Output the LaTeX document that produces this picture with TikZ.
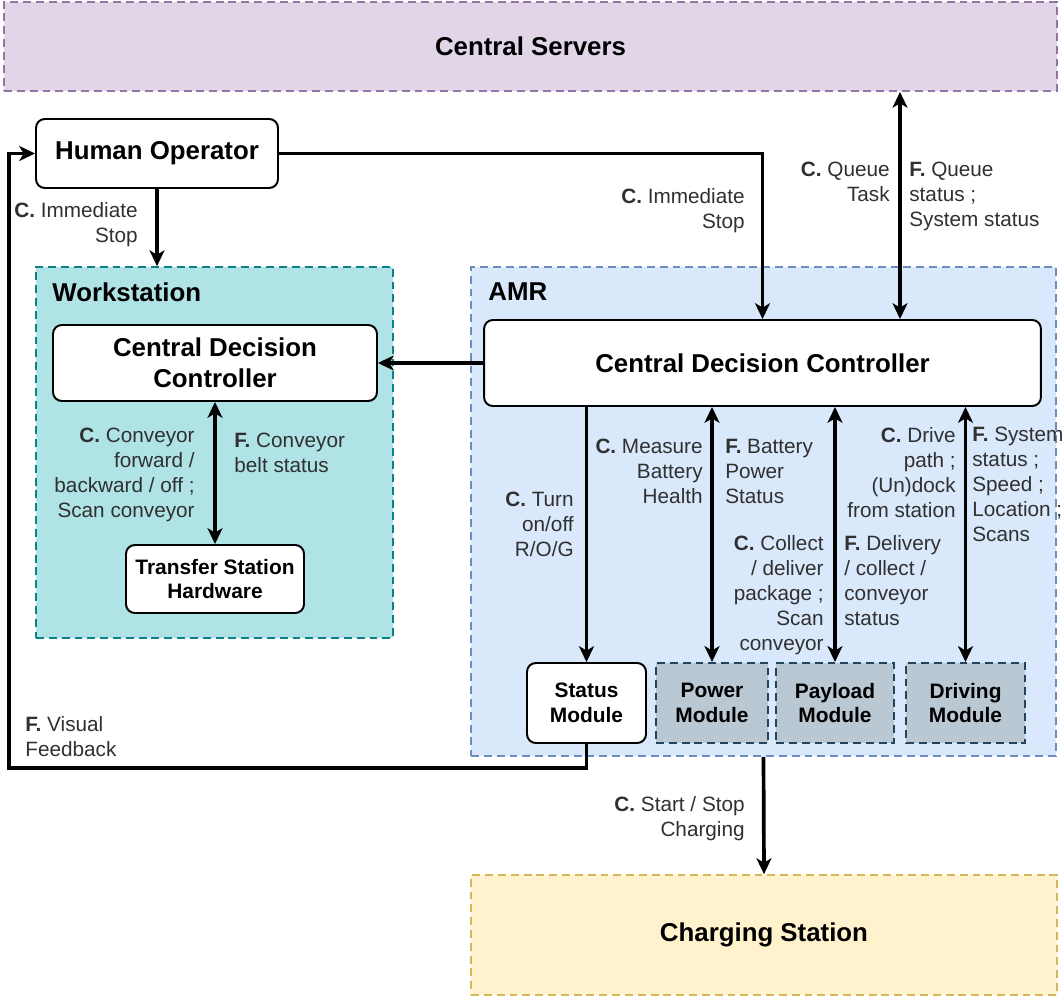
\documentclass[tikz,border=0pt]{standalone}
\usepackage{fontspec}
\setmainfont{Liberation Sans}
\usetikzlibrary{arrows.meta}

\definecolor{srvfill}{HTML}{E1D5E7}
\definecolor{srvdraw}{HTML}{9673A6}
\definecolor{wsfill}{HTML}{B0E3E6}
\definecolor{wsdraw}{HTML}{0E8088}
\definecolor{amrfill}{HTML}{DAE8FC}
\definecolor{amrdraw}{HTML}{6C8EBF}
\definecolor{modfill}{HTML}{BAC8D3}
\definecolor{moddraw}{HTML}{23445D}
\definecolor{chgfill}{HTML}{FFF2CC}
\definecolor{chgdraw}{HTML}{D6B656}
\definecolor{lbltext}{HTML}{303030}

\begin{document}
\begin{tikzpicture}[
  x = 0.02cm, y = -0.02cm,
  every node/.style = {inner sep = 0pt},
  title/.style = {font = \fontsize{14.7}{17.6}\selectfont\bfseries},
  box/.style = {title, draw, fill = white, rounded corners = 5pt, line width = 1.1pt, align = center},
  smallbox/.style = {box, font = \fontsize{11.9}{14.2}\selectfont\bfseries},
  group/.style = {draw, line width = 1pt, dash pattern = on 4.5pt off 2.8pt},
  module/.style = {group, fill = modfill, draw = moddraw, line width = 1.2pt, align = center,
                   font = \fontsize{11.9}{14.2}\selectfont\bfseries},
  lbl/.style = {font = \fontsize{11.8}{14.2}\selectfont, text = lbltext},
  lblr/.style = {lbl, align = right, anchor = north east},
  lbll/.style = {lbl, align = left, anchor = north west},
  tip/.style = {Stealth[length = 9pt, width = 8.5pt, inset = 2.5pt]},
  arr/.style = {-{Stealth[length = 9pt, width = 8.5pt, inset = 2.5pt]}, line width = 2.1pt},
  darr/.style = {{Stealth[length = 9pt, width = 8.5pt, inset = 2.5pt]}-{Stealth[length = 9pt, width = 8.5pt, inset = 2.5pt]}, line width = 2.1pt},
  ]
  \useasboundingbox (0,0) rectangle (1064,997);

  % groups
  \node[group, fill = srvfill, draw = srvdraw, minimum width = 21.06cm, minimum height = 1.78cm, title]
    (servers) at (530.5,46.5) {Central Servers};
  \node[group, fill = wsfill, draw = wsdraw, minimum width = 7.14cm, minimum height = 7.42cm]
    (ws) at (214.5,452.5) {};
  \node[group, fill = amrfill, draw = amrdraw, minimum width = 11.7cm, minimum height = 9.78cm]
    (amr) at (763.5,511.5) {};
  \node[group, fill = chgfill, draw = chgdraw, minimum width = 11.72cm, minimum height = 2.4cm, title]
    (charging) at (764,935) {Charging Station};
  \node[title, anchor = west] (wstitle) at (52,292) {Workstation};
  \node[title, anchor = west] (amrtitle) at (488,292) {AMR};

  % blocks
  \node[box, minimum width = 4.84cm, minimum height = 1.38cm] (human) at (157,153.5) {Human Operator};
  \node[box, minimum width = 6.48cm, minimum height = 1.52cm] (wscdc) at (215,363) {Central Decision\\Controller};
  \node[smallbox, minimum width = 3.56cm, minimum height = 1.36cm] (tsh) at (215,579) {Transfer Station\\Hardware};
  \node[box, minimum width = 11.14cm, minimum height = 1.72cm] (amrcdc) at (762.5,363) {Central Decision Controller};
  \node[smallbox, minimum width = 2.38cm, minimum height = 1.6cm] (status) at (586.5,703) {Status\\Module};
  \node[module, minimum width = 2.24cm, minimum height = 1.6cm] (power) at (712,703) {Power\\Module};
  \node[module, minimum width = 2.36cm, minimum height = 1.6cm] (payload) at (835,703) {Payload\\Module};
  \node[module, minimum width = 2.38cm, minimum height = 1.6cm] (driving) at (965.5,703) {Driving\\Module};

  % connectors
  \coordinate (qline) at (900,0);
  \coordinate (fbturn) at (9,768);
  \draw[arr] (human.east) -| (amrcdc.north);
  \draw[arr] (human.south) -- (human.south |- ws.north);
  \draw[darr] (servers.south -| qline) -- (amrcdc.north -| qline);
  \draw[arr] (amrcdc.west) -- (wscdc.east);
  \draw[darr] (wscdc.south) -- (tsh.north);
  \draw[arr] (status.north |- amrcdc.south) -- (status.north);
  \draw[darr] (power.north |- amrcdc.south) -- (power.north);
  \draw[darr] (payload.north |- amrcdc.south) -- (payload.north);
  \draw[darr] (driving.north |- amrcdc.south) -- (driving.north);
  \draw[arr] (amr.south) -- (charging.north);
  \draw[arr] (status.south) |- (fbturn) |- (human.west);

  % labels
  \node[lblr] (l1) at (138,202) {\textbf{C.} Immediate\\Stop};
  \node[lblr] (l2) at (745,188) {\textbf{C.} Immediate\\Stop};
  \node[lblr] (l3) at (890,162) {\textbf{C.} Queue\\Task};
  \node[lbll] (l4) at (909,162) {\textbf{F.} Queue\\status ;\\System status};
  \node[lblr] (l5) at (195,428) {\textbf{C.} Conveyor\\forward /\\backward / off ;\\Scan conveyor};
  \node[lbll] (l6) at (234,433) {\textbf{F.} Conveyor\\belt status};
  \node[lblr] (l7) at (574,492) {\textbf{C.} Turn\\on/off\\R/O/G};
  \node[lblr] (l8) at (703,439) {\textbf{C.} Measure\\Battery\\Health};
  \node[lbll] (l9) at (725,439) {\textbf{F.} Battery\\Power\\Status};
  \node[lblr] (l10) at (824,535) {\textbf{C.} Collect\\/ deliver\\package ;\\Scan\\conveyor};
  \node[lbll] (l11) at (844,535) {\textbf{F.} Delivery\\/ collect /\\conveyor\\status};
  \node[lblr] (l12) at (956,427) {\textbf{C.} Drive\\path ;\\(Un)dock\\from station};
  \node[lbll] (l13) at (972,427) {\textbf{F.} System\\status ;\\Speed ;\\Location ;\\Scans};
  \node[lbll] (l14) at (25,716) {\textbf{F.} Visual\\Feedback};
  \node[lblr] (l15) at (745,796) {\textbf{C.} Start / Stop\\Charging};
\end{tikzpicture}
\end{document}
